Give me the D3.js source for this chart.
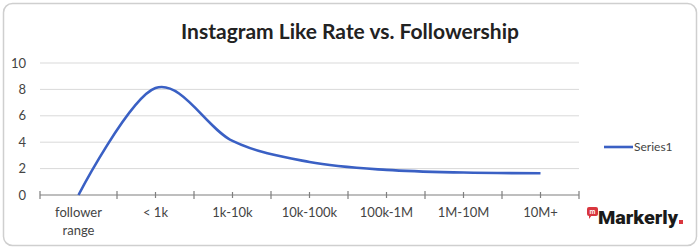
<!DOCTYPE html>
<html>
<head>
<meta charset="utf-8">
<script src="https://cdn.jsdelivr.net/npm/d3@7"></script>
<style>
  body { margin: 0; background: #fff; }
  svg { display: block; font-family: Lato, "Open Sans", sans-serif; }
  .grid line { stroke: #d9d9d9; stroke-width: 1; }
  .ylabel, .xlabel { fill: #444; font-size: 13px; }
  .line { fill: none; stroke: #3a60c4; stroke-width: 2.6; }
</style>
</head>
<body>
<div id="graphic"></div>
<script>
  var categories = ["follower range", "< 1k", "1k-10k", "10k-100k", "100k-1M", "1M-10M", "10M+"];
  var likeRate = [0, 8.1, 4.1, 2.5, 1.9, 1.7, 1.65];
  var yTicks = [0, 2, 4, 6, 8, 10];
  var seriesName = "Series1";
  var title = "Instagram Like Rate vs. Followership";

  var width = 700;
  var height = 252;
  var plotLeft = 40;
  var plotRight = 579;
  var plotTop = 63;
  var plotBottom = 195;

  var svg = d3.select("#graphic")
    .append("svg")
    .attr("width", width)
    .attr("height", height);

  // frame
  svg.append("rect")
    .attr("x", 3.5).attr("y", 3.5)
    .attr("width", 693).attr("height", 242)
    .attr("rx", 9)
    .attr("fill", "#fff")
    .attr("stroke", "#cfcfcf")
    .attr("stroke-width", 1.5);

  svg.append("text")
    .attr("x", 350)
    .attr("y", 39)
    .attr("text-anchor", "middle")
    .attr("font-size", 21)
    .attr("font-weight", "bold")
    .attr("fill", "#222")
    .text(title);

  var xScale = d3.scaleBand()
    .domain(categories)
    .range([plotLeft, plotRight]);

  var yScale = d3.scaleLinear()
    .domain([0, 10])
    .range([plotBottom, plotTop]);

  var xCenter = function(d, i) { return xScale(categories[i]) + xScale.bandwidth() / 2; };

  // gridlines
  svg.append("g")
    .attr("class", "grid")
    .selectAll("line")
    .data(yTicks.filter(function(t) { return t > 0; }))
    .join("line")
    .attr("x1", plotLeft).attr("x2", plotRight)
    .attr("y1", function(d) { return yScale(d); })
    .attr("y2", function(d) { return yScale(d); });

  // y labels
  svg.append("g")
    .selectAll("text")
    .data(yTicks)
    .join("text")
    .attr("class", "ylabel")
    .attr("x", 26)
    .attr("y", function(d) { return yScale(d) + 4.5; })
    .attr("text-anchor", "end")
    .text(function(d) { return d; });

  // x axis line with ticks at boundaries and centers
  var axis = svg.append("g").attr("stroke", "#7f7f7f").attr("stroke-width", 1.2);
  axis.append("line")
    .attr("x1", plotLeft).attr("x2", plotRight)
    .attr("y1", plotBottom).attr("y2", plotBottom);

  var boundaries = categories.map(function(c) { return xScale(c); }).concat([plotRight]);
  axis.selectAll(".major")
    .data(boundaries)
    .join("line")
    .attr("class", "major")
    .attr("x1", function(d) { return d; }).attr("x2", function(d) { return d; })
    .attr("y1", plotBottom - 4).attr("y2", plotBottom + 4);

  axis.selectAll(".minor")
    .data(categories.slice(1))
    .join("line")
    .attr("class", "minor")
    .attr("x1", function(d) { return xScale(d) + xScale.bandwidth() / 2; })
    .attr("x2", function(d) { return xScale(d) + xScale.bandwidth() / 2; })
    .attr("y1", plotBottom - 3).attr("y2", plotBottom + 3);

  // x labels
  var xl = svg.append("g")
    .selectAll("text")
    .data(categories)
    .join("text")
    .attr("class", "xlabel")
    .attr("text-anchor", "middle")
    .attr("x", function(d) { return xScale(d) + xScale.bandwidth() / 2; })
    .attr("y", 217);

  xl.each(function(d) {
    var t = d3.select(this);
    if (d === "follower range") {
      t.append("tspan").text("follower");
      t.append("tspan")
        .attr("x", xScale(d) + xScale.bandwidth() / 2)
        .attr("dy", 18)
        .text("range");
    } else {
      t.text(d);
    }
  });

  // series line
  svg.append("path")
    .datum(likeRate)
    .attr("class", "line")
    .attr("d", d3.line()
      .x(xCenter)
      .y(function(d) { return yScale(d); })
      .curve(d3.curveCardinal.tension(0)));

  // legend
  svg.append("line")
    .attr("x1", 604).attr("x2", 633)
    .attr("y1", 147).attr("y2", 147)
    .attr("stroke", "#3a60c4")
    .attr("stroke-width", 2.6);

  svg.append("text")
    .attr("x", 634)
    .attr("y", 151)
    .attr("font-size", 12)
    .attr("fill", "#444")
    .text(seriesName);

  // Markerly logo
  var logo = svg.append("g");
  logo.append("rect")
    .attr("x", 587).attr("y", 207)
    .attr("width", 11).attr("height", 9)
    .attr("rx", 2)
    .attr("fill", "#d9363e");
  logo.append("path")
    .attr("d", "M589,215 L589,219 L592,215 Z")
    .attr("fill", "#d9363e");
  logo.append("text")
    .attr("x", 592.5).attr("y", 214)
    .attr("text-anchor", "middle")
    .attr("font-size", 7)
    .attr("font-weight", "bold")
    .attr("fill", "#fff")
    .text("m");
  logo.append("text")
    .attr("x", 598).attr("y", 224)
    .attr("font-size", 19)
    .attr("font-weight", "900")
    .attr("font-family", "Roboto, sans-serif")
    .attr("fill", "#1a1a1a")
    .attr("textLength", 80)
    .attr("lengthAdjust", "spacingAndGlyphs")
    .text("Markerly");
  logo.append("rect")
    .attr("x", 679).attr("y", 220)
    .attr("width", 4).attr("height", 4)
    .attr("fill", "#d9363e");
</script>
</body>
</html>
